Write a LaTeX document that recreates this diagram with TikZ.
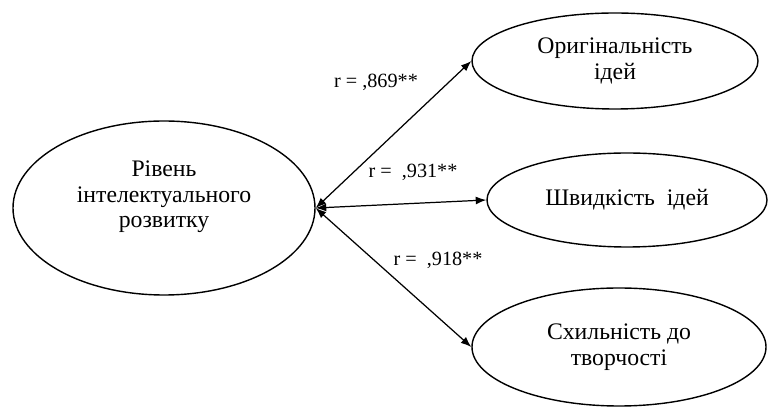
\documentclass[tikz,border=0pt]{standalone}
\usepackage{fontspec}
\setmainfont{Liberation Serif}
\usetikzlibrary{shapes.geometric,arrows.meta}
\tikzset{
  factor/.style={draw, ellipse, line width=0.8pt, inner sep=0pt, align=center,
    font=\fontsize{13.5}{14.6}\selectfont},
  corr/.style={font=\fontsize{11.5}{13}\selectfont},
}
\begin{document}
\begin{tikzpicture}[x=0.02cm, y=-0.02cm, line join=round, >={Latex[length=6pt,width=4.5pt]}]
	\useasboundingbox (0,0) rectangle (768,408);
	% oval nodes
	\node[factor, minimum width=302*0.02cm, minimum height=174*0.02cm] (level) at (164,208) {};
	\node[align=center, font=\fontsize{13.5}{14.6}\selectfont] (leveltext) at (164,197) {Рівень\\інтелектуального\\розвитку};
	\node[factor, minimum width=286*0.02cm, minimum height=96*0.02cm] (orig) at (615,61) {Оригінальність\\ідей};
	\node[factor, minimum width=280*0.02cm, minimum height=94*0.02cm] (speed) at (627,200) {Швидкість~ ідей};
	\node[factor, minimum width=294*0.02cm, minimum height=118*0.02cm] (creat) at (619,347) {Схильність до\\творчості};
	% links
	\draw[<->, line width=0.7pt] (level.east) -- (orig.west);
	\draw[<->, line width=0.7pt] (level.east) -- (speed.west);
	\draw[<->, line width=0.7pt] (level.east) -- (creat.west);
	\node[corr] (r1) at (376,82) {r = ,869**};
	\node[corr] (r2) at (413,172) {r = ~,931**};
	\node[corr] (r3) at (438,260) {r = ~,918**};
\end{tikzpicture}
\end{document}
